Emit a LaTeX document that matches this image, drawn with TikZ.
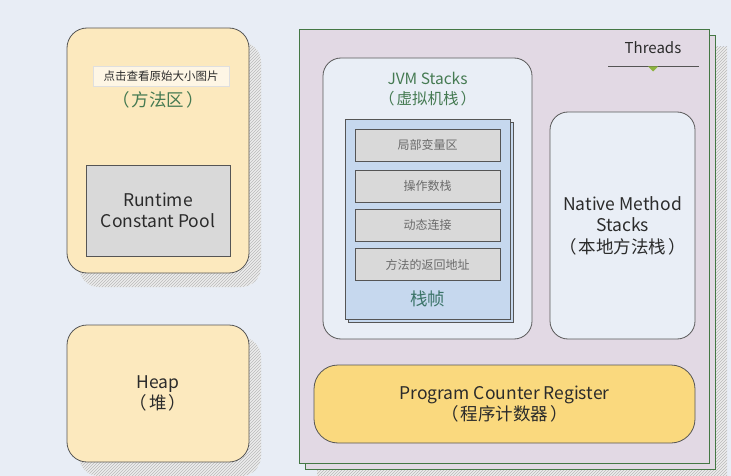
\documentclass[tikz,border=0pt]{standalone}
\usepackage{fontspec}
\setmainfont{Noto Sans CJK SC}
\usepackage{tikz}
\usetikzlibrary{calc,positioning,patterns}

\definecolor{bgcol}{HTML}{E8EDF5}
\definecolor{areacol}{HTML}{FCE9BE}
\definecolor{poolcol}{HTML}{D9D9D9}
\definecolor{threadcol}{HTML}{E2D9E4}
\definecolor{stackcol}{HTML}{E9EEF6}
\definecolor{framecol}{HTML}{C6D8EE}
\definecolor{pccol}{HTML}{FAD97E}
\definecolor{edgecol}{HTML}{555555}
\definecolor{textcol}{HTML}{2B2B2B}
\definecolor{greentext}{HTML}{457A52}
\definecolor{tealtext}{HTML}{3B7468}
\definecolor{rowtext}{HTML}{6B6B6B}
\definecolor{marker}{HTML}{8DB33F}

\newcommand{\paren}[1]{（\hspace{2pt}#1\hspace{2pt}）}

\tikzset{
  every node/.style={text=textcol},
  big text/.style={font=\fontsize{17.5}{21.5}\selectfont},
  area/.style={draw=edgecol, line width=0.8pt, fill=areacol, rounded corners=20pt,
    align=center, inner sep=0pt},
  shade box/.style={draw=none, fill=gray!14, rounded corners=20pt},
  pool/.style={draw=edgecol, line width=0.8pt, fill=poolcol, align=center, big text},
  rowbox/.style={draw=edgecol, line width=0.8pt, fill=poolcol,
    minimum width=145pt, minimum height=32pt, inner sep=0pt, text=rowtext,
    font=\fontsize{12}{13}\selectfont},
  stackbox/.style={draw=gray!70!black, line width=0.8pt, fill=stackcol,
    rounded corners=18pt, inner sep=0pt}
}

\begin{document}
\begin{tikzpicture}[x=1pt, y=-1pt]
\useasboundingbox[fill=bgcol] (0,0) rectangle (731,476);

% method area
\fill[shade box] (79,42) rectangle (261,287);
\fill[pattern=north east lines, pattern color=gray!55, rounded corners=20pt] (79,42) rectangle (261,287);
\node[area, minimum width=182pt, minimum height=245pt] (method) at (158,150.5) {};
\node[fill=white!60!areacol, draw=gray!25, minimum width=136pt, minimum height=20pt,
  inner sep=0pt, font=\fontsize{11.5}{12}\selectfont] (tip) at (161,76) {点击查看原始大小图片};
\node[text=greentext, font=\fontsize{17.5}{20}\selectfont] (methodlabel) at (158,100) {\paren{方法区}};
\node[pool, minimum width=144pt, minimum height=91pt] (rcp) at (158,210.5) {Runtime\\Constant Pool};

% heap
\fill[shade box] (79,337) rectangle (261,476);
\fill[pattern=north east lines, pattern color=gray!55, rounded corners=20pt] (79,337) rectangle (261,476);
\node[area, minimum width=182pt, minimum height=137pt, big text] (heap) at (158,393.5) {Heap\\\paren{堆}};

% threads
\fill[fill=gray!14] (317,47) rectangle (727,481);
\fill[pattern=north east lines, pattern color=gray!55] (317,47) rectangle (727,481);
\node[draw=edgecol!80!green, line width=0.8pt, fill=threadcol, minimum width=410pt,
  minimum height=434pt, inner sep=0pt] (threads2) at (510,252) {};
\node[draw=edgecol!80!green, line width=0.8pt, fill=threadcol, minimum width=410pt,
  minimum height=434pt, inner sep=0pt] (threads) at (504,246) {};
\node[font=\fontsize{15}{16}\selectfont] (threadlabel) at (653,48) {Threads};
\coordinate (tl) at (608,66);
\coordinate (tr) at (699,66);
\draw[edgecol, line width=0.8pt] (tl) -- (tr);
\fill[marker] (648,66.5) -- (658,66.5) -- (653,71.5) -- cycle;

% jvm stacks
\node[stackbox, minimum width=209pt, minimum height=281pt] (jvm) at (427.5,198.5) {};
\node[text=greentext, align=center, font=\fontsize{15.5}{19.5}\selectfont] (jvmlabel) at (427.5,89) {JVM Stacks\\\paren{虚拟机栈}};

\node[draw=edgecol, line width=0.8pt, fill=framecol, minimum width=165pt,
  minimum height=200pt, inner sep=0pt] (frame2) at (430.5,222) {};
\node[draw=edgecol, line width=0.8pt, fill=framecol, minimum width=165pt,
  minimum height=200pt, inner sep=0pt] (frame) at (427.5,219) {};
\node[rowbox] (row1) at (427.5,145) {局部变量区};
\node[rowbox] (row2) at (427.5,186) {操作数栈};
\node[rowbox] (row3) at (427.5,225) {动态连接};
\node[rowbox] (row4) at (427.5,264.5) {方法的返回地址};
\node[text=tealtext, font=\fontsize{17.5}{18}\selectfont] (framelabel) at (427.5,299) {栈帧};

% native method stacks
\node[stackbox, minimum width=145pt, minimum height=227pt, align=center,
  big text] (nms) at (622.5,225.5) {Native Method\\Stacks\\\paren{本地方法栈}};

% program counter
\node[draw=edgecol, line width=0.8pt, fill=pccol, rounded corners=24pt,
  minimum width=381pt, minimum height=78pt, inner sep=0pt, align=center,
  big text] (pc) at (504.5,404) {Program Counter Register\\\paren{程序计数器}};

\end{tikzpicture}
\end{document}
